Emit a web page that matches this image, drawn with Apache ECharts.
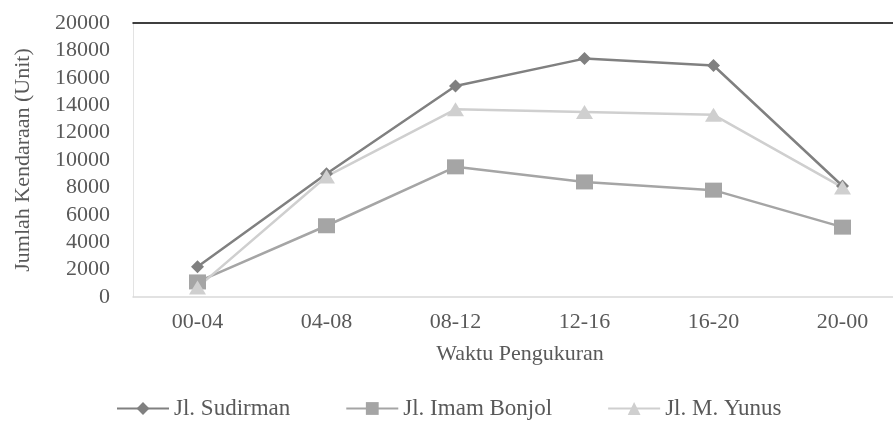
<!DOCTYPE html>
<html>
<head>
<meta charset="utf-8">
<script src="https://cdn.jsdelivr.net/npm/echarts@6/dist/echarts.min.js"></script>
<style>
  html, body { margin: 0; padding: 0; background: #fff; }
  #chart { width: 893px; height: 423px; }
</style>
</head>
<body>
<div id="chart"></div>
<script>
// data
const waktu = ['00-04', '04-08', '08-12', '12-16', '16-20', '20-00']
const sudirman = [2200, 9000, 15400, 17400, 16900, 8100]
const imamBonjol = [1100, 5200, 9500, 8400, 7800, 5100]
const mYunus = [700, 8800, 13700, 13500, 13300, 8000]

const font = 'Liberation Serif, Times New Roman, serif'
const textColor = '#595959'

const chart = echarts.init(document.getElementById('chart'))

const option = {
  animation: false,
  textStyle: { fontFamily: font },
  // plot area runs past the right edge in the original, so don't let v6 squeeze it
  grid: { left: 133, top: 23, width: 774, height: 274, outerBoundsMode: 'none' },
  legend: {
    top: 397,
    left: 116,
    padding: 0,
    itemWidth: 52,
    itemHeight: 16,
    itemGap: 55,
    textStyle: { fontFamily: font, fontSize: 23, color: textColor },
    data: ['Jl. Sudirman', 'Jl. Imam Bonjol', 'Jl. M. Yunus']
  },
  xAxis: [
    {
      type: 'category',
      data: waktu,
      boundaryGap: true,
      axisLine: { lineStyle: { color: '#d9d9d9', width: 1.5 } },
      axisTick: { show: false },
      axisLabel: { fontFamily: font, fontSize: 22, color: textColor, margin: 14 },
      name: 'Waktu Pengukuran',
      nameLocation: 'middle',
      nameGap: 46,
      nameTextStyle: { fontFamily: font, fontSize: 22, color: textColor }
    },
    {
      type: 'category',
      position: 'top',
      data: waktu,
      axisLine: { lineStyle: { color: '#000', width: 1.5 } },
      axisTick: { show: false },
      axisLabel: { show: false }
    }
  ],
  yAxis: {
    type: 'value',
    min: 0,
    max: 20000,
    interval: 2000,
    splitLine: { show: false },
    axisLine: { show: true, lineStyle: { color: '#e3e3e3' } },
    axisTick: { show: false },
    axisLabel: {
      fontFamily: font,
      fontSize: 22,
      color: textColor,
      margin: 23,
      formatter: (v) => String(v)
    },
    name: 'Jumlah Kendaraan (Unit)',
    nameLocation: 'middle',
    nameGap: 99,
    nameTextStyle: { fontFamily: font, fontSize: 22, color: textColor }
  },
  series: [
    {
      name: 'Jl. Sudirman',
      type: 'line',
      data: sudirman,
      symbol: 'diamond',
      symbolSize: [13, 13],
      lineStyle: { color: '#808080', width: 2.5 },
      itemStyle: { color: '#808080' }
    },
    {
      name: 'Jl. Imam Bonjol',
      type: 'line',
      data: imamBonjol,
      symbol: 'rect',
      symbolSize: [17, 15],
      lineStyle: { color: '#a5a5a5', width: 2.5 },
      itemStyle: { color: '#a5a5a5' }
    },
    {
      name: 'Jl. M. Yunus',
      type: 'line',
      data: mYunus,
      symbol: 'triangle',
      symbolSize: [17, 14],
      lineStyle: { color: '#cfcfcf', width: 2.5 },
      itemStyle: { color: '#cfcfcf' }
    }
  ]
}

chart.setOption(option)
</script>
</body>
</html>
